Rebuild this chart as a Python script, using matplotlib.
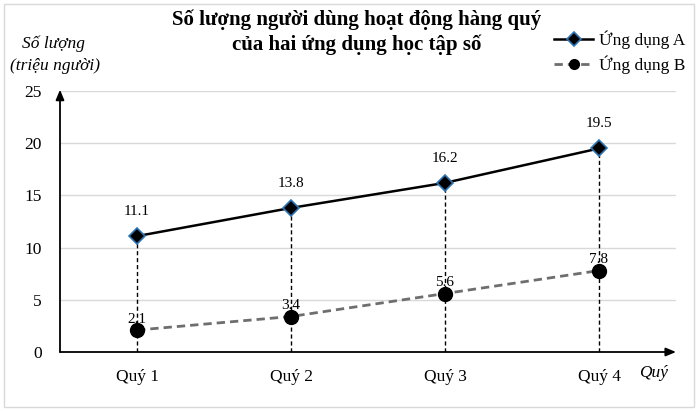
import matplotlib
matplotlib.use("Agg")
import matplotlib.pyplot as plt
from matplotlib.patches import Rectangle

categories = ["Quý 1", "Quý 2", "Quý 3", "Quý 4"]
app_a = [11.1, 13.8, 16.2, 19.5]
app_b = [2.1, 3.4, 5.6, 7.8]
yticks = [0, 5, 10, 15, 20, 25]

plt.rcParams['font.family'] = ['Liberation Serif', 'DejaVu Serif']

W, H = 699, 411
fig = plt.figure(figsize=(W/100, H/100), dpi=100)
fig.patches.append(Rectangle((4/W, 4/H), 690/W, 403/H, transform=fig.transFigure,
                             fill=False, edgecolor='#D9D9D9', linewidth=1))

ax = fig.add_axes([60/W, 59/H, 616/W, 261/H])
x = list(range(len(categories)))
ax.set_xlim(-0.5, 3.5)
ax.set_ylim(0, 25)
for s in ax.spines.values():
    s.set_visible(False)

for yv in yticks[1:]:
    ax.axhline(yv, color='#D9D9D9', linewidth=1, zorder=0)

# axes arrows
ax.annotate('', xy=(1.0, 0), xytext=(0, 0), xycoords='axes fraction',
            arrowprops=dict(arrowstyle='-|>,head_width=0.25,head_length=0.6', color='black', lw=1.3,
                            shrinkA=0, shrinkB=0), zorder=3)
ax.annotate('', xy=(0, 1.005), xytext=(0, 0), xycoords='axes fraction',
            arrowprops=dict(arrowstyle='-|>,head_width=0.25,head_length=0.6', color='black', lw=1.3,
                            shrinkA=0, shrinkB=0), zorder=3)

# vertical dashed drop lines
ax.vlines(x, 0, app_a, colors='black', linestyles=(0, (3, 2)), linewidth=1, zorder=1)

lb, = ax.plot(x, app_b, color='#6E6E6E', linestyle=(0, (3, 1.8)), linewidth=2,
              marker='o', markersize=10, markerfacecolor='black', markeredgecolor='black', zorder=4,
              label='Ứng dụng B')
la, = ax.plot(x, app_a, color='black', linewidth=1.8,
              marker='D', markersize=8, markerfacecolor='black', markeredgecolor='#2E75B6',
              markeredgewidth=1.2, zorder=5, label='Ứng dụng A')

for xi, v in zip(x, app_a):
    ax.annotate(f"{v}", (xi, v), xytext=(0, 13), textcoords='offset points',
                ha='center', va='bottom', fontsize=11)
for xi, v in zip(x, app_b):
    ax.annotate(f"{v}", (xi, v), xytext=(0, 3), textcoords='offset points',
                ha='center', va='bottom', fontsize=11)

ax.set_xticks(x)
ax.set_xticklabels(categories, fontsize=12.5)
ax.set_yticks(yticks)
ax.set_yticklabels([str(t) for t in yticks], fontsize=12.5)
ax.tick_params(axis='both', length=0)
ax.tick_params(axis='x', pad=12)
ax.tick_params(axis='y', pad=13)

fig.text(654/W, 1 - 373/H, "Quý", fontsize=12.5, style='italic', ha='center', va='center')
fig.text(53/W, 1 - 44/H, "Số lượng", fontsize=12.5, style='italic', ha='center', va='center')
fig.text(55/W, 1 - 66/H, "(triệu người)", fontsize=12.5, style='italic', ha='center', va='center')

fig.text(357/W, 1 - 20/H, "Số lượng người dùng hoạt động hàng quý", fontsize=15,
         fontweight='bold', ha='center', va='center')
fig.text(357/W, 1 - 45/H, "của hai ứng dụng học tập số", fontsize=15,
         fontweight='bold', ha='center', va='center')

leg = fig.legend(handles=[la, lb], loc='upper right', bbox_to_anchor=(692/W, 1 - 24/H),
                 frameon=False, fontsize=12.5, handlelength=2.3, handletextpad=0.3,
                 labelspacing=0.35, borderaxespad=0)
for h in leg.legend_handles:
    h.set_markersize(7)

fig.savefig("out.png", dpi=100)
